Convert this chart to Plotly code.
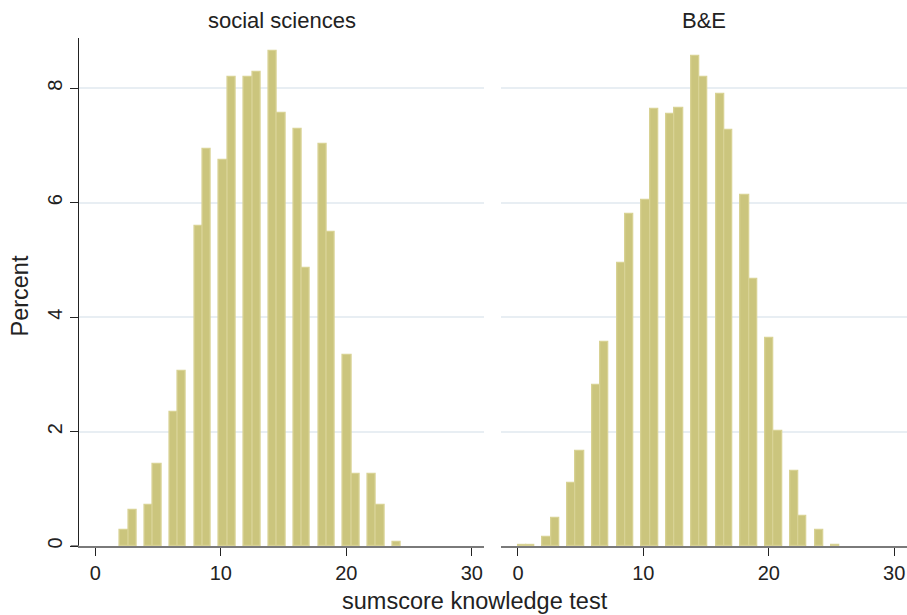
import plotly.graph_objects as go

# ---- data ----
panel_titles = ["social sciences", "B&E"]

scores_social = [2, 3, 4, 5, 6, 7, 8, 9, 10, 11, 12, 13, 14, 15, 16, 17, 18, 19, 20, 21, 22, 23, 24]
percent_social = [0.27, 0.63, 0.72, 1.43, 2.34, 3.06, 5.59, 6.93, 6.75, 8.20, 8.20, 8.28, 8.65,
                  7.57, 7.29, 4.86, 7.03, 5.48, 3.33, 1.26, 1.26, 0.72, 0.075]

scores_be = [0, 1, 2, 3, 4, 5, 6, 7, 8, 9, 10, 11, 12, 13, 14, 15, 16, 17, 18, 19, 20, 21, 22, 23, 24, 25]
percent_be = [0.02, 0.02, 0.16, 0.48, 1.10, 1.66, 2.82, 3.57, 4.94, 5.80, 6.04, 7.64, 7.54, 7.66,
              8.57, 8.20, 7.90, 7.26, 6.13, 4.67, 3.64, 2.01, 1.31, 0.53, 0.27, 0.02]

x_ticks = [0, 10, 20, 30]
y_ticks = [0, 2, 4, 6, 8]

# histogram binning (common bins over both groups)
bin_start = 0
bin_end = 25
n_bins = 38
bin_w = (bin_end - bin_start) / n_bins


def bin_centers(scores):
    out = []
    for s in scores:
        r = (s - bin_start) / bin_w
        k = int(round(r)) if abs(r - round(r)) < 1e-9 else int(r // 1)
        out.append(bin_start + (k + 0.5) * bin_w)
    return out


W, H = 907, 615
FILL = "rgb(203,197,125)"
EDGE = "rgb(216,210,148)"
FONT = "Liberation Sans, Arial, Helvetica, sans-serif"
TXT = "#222222"

fig = go.Figure()
fig.add_trace(go.Bar(x=bin_centers(scores_social), y=percent_social, width=[bin_w] * len(scores_social),
                     marker=dict(color=FILL, line=dict(color=EDGE, width=1.3)),
                     xaxis="x", yaxis="y", showlegend=False, hoverinfo="x+y"))
fig.add_trace(go.Bar(x=bin_centers(scores_be), y=percent_be, width=[bin_w] * len(scores_be),
                     marker=dict(color=FILL, line=dict(color=EDGE, width=1.3)),
                     xaxis="x2", yaxis="y2", showlegend=False, hoverinfo="x+y"))

xl = [78.7 / W, 484.3 / W]
xr = [501.3 / W, 906.7 / W]
yd = [1 - 548.7 / H, 1 - 38.3 / H]
xrange = [-1.33, 31.0]
yrange = [0, 8.876]

xcommon = dict(range=xrange, tickvals=x_ticks, ticks="outside", ticklen=8, tickwidth=1.3,
               tickcolor="#222222", showline=True, linecolor="#7a7a7a", linewidth=1.8,
               showgrid=False, zeroline=False, tickfont=dict(family=FONT, size=20, color=TXT))
ycommon = dict(range=yrange, tickvals=y_ticks, showgrid=True, gridcolor="#e8eef3", gridwidth=1.5,
               zeroline=False, domain=yd)

fig.update_layout(
    width=W, height=H,
    margin=dict(l=0, r=0, t=0, b=0),
    paper_bgcolor="white", plot_bgcolor="white",
    barmode="overlay", bargap=0,
    xaxis=dict(domain=xl, anchor="y", **xcommon),
    xaxis2=dict(domain=xr, anchor="y2", **xcommon),
    yaxis=dict(anchor="x", ticks="outside", ticklen=8, tickwidth=1.3, tickcolor="#222222",
               showline=True, linecolor="#222222", linewidth=1.3, tickangle=-90,
               tickfont=dict(family=FONT, size=20, color=TXT), **ycommon),
    yaxis2=dict(anchor="x2", showticklabels=False, showline=False, ticks="", **ycommon),
    font=dict(family=FONT, color=TXT),
)

# small extension of the x axis line to the left of the y axis (Stata style)
fig.add_shape(type="line", xref="paper", yref="y", x0=70.7 / W, x1=78.7 / W, y0=0, y1=0,
              line=dict(color="#7a7a7a", width=1.8))

# panel titles
for title, dom in zip(panel_titles, [xl, xr]):
    fig.add_annotation(text=title, xref="paper", yref="paper", x=(dom[0] + dom[1]) / 2,
                       y=1 - 21 / H, xanchor="center", yanchor="middle", showarrow=False,
                       font=dict(family=FONT, size=22, color=TXT))

fig.add_annotation(text="sumscore knowledge test", xref="paper", yref="paper", x=474.5 / W,
                   y=1 - 604 / H, xanchor="center", yanchor="middle", showarrow=False,
                   font=dict(family=FONT, size=23.5, color=TXT))
fig.add_annotation(text="Percent", xref="paper", yref="paper", x=20 / W, y=1 - 298 / H,
                   xanchor="center", yanchor="middle", textangle=-90, showarrow=False,
                   font=dict(family=FONT, size=23.5, color=TXT))

fig.write_html("out.html", config={"displayModeBar": False},
               post_script="document.body.style.margin='0';document.body.style.overflow='hidden';")
